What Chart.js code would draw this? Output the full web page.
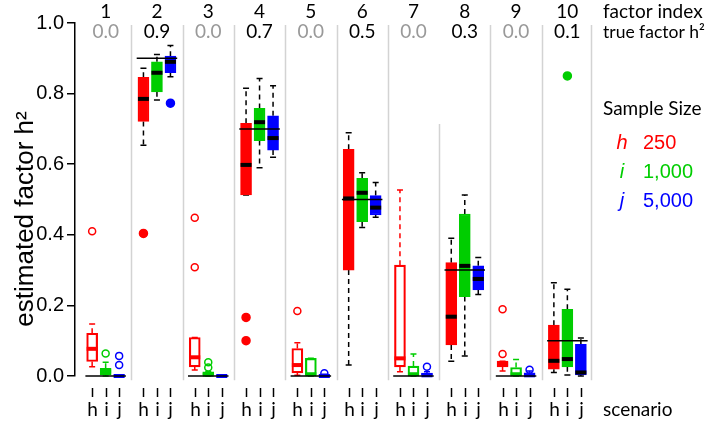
<!DOCTYPE html>
<html>
<head>
<meta charset="utf-8">
<script src="https://cdn.jsdelivr.net/npm/chart.js@4/dist/chart.umd.min.js"></script>
<style>
  body { margin: 0; background: #fff; }
  #wrap { width: 712px; height: 422px; position: relative; }
</style>
</head>
<body>
<div id="wrap"><canvas id="boxes"></canvas></div>
<script>
// factors and their true heritability
const factorIndex = [1, 2, 3, 4, 5, 6, 7, 8, 9, 10];
const trueH2 = [0.0, 0.9, 0.0, 0.7, 0.0, 0.5, 0.0, 0.3, 0.0, 0.1];
const scenarioLetters = ['h', 'i', 'j'];
const sampleSizes = ['250', '1,000', '5,000'];
const yTicks = [0.0, 0.2, 0.4, 0.6, 0.8, 1.0];

// scenario h (n = 250)
const lowH  = [0.026, 0.654, 0.017, 0.513, 0.002, 0.031, 0.012, 0.042, 0.014, 0.010];
const q1H   = [0.041, 0.721, 0.026, 0.513, 0.009, 0.300, 0.026, 0.088, 0.026, 0.019];
const medH  = [0.077, 0.785, 0.053, 0.598, 0.031, 0.503, 0.050, 0.168, 0.034, 0.043];
const q3H   = [0.121, 0.846, 0.109, 0.716, 0.078, 0.642, 0.314, 0.321, 0.042, 0.144];
const highH = [0.147, 0.872, 0.109, 0.815, 0.094, 0.689, 0.527, 0.390, 0.042, 0.264];
const outH  = [[0.410], [0.404], [0.308, 0.448], [0.166, 0.100], [0.184], [], [], [], [0.189, 0.062], []];

// scenario i (n = 1,000)
const lowI  = [0.000, 0.782, 0.000, 0.590, 0.000, 0.421, 0.000, 0.057, 0.000, 0.003];
const q1I   = [0.003, 0.805, 0.000, 0.667, 0.003, 0.437, 0.002, 0.225, 0.002, 0.026];
const medI  = [0.013, 0.859, 0.004, 0.719, 0.005, 0.519, 0.005, 0.312, 0.005, 0.048];
const q3I   = [0.022, 0.890, 0.012, 0.758, 0.050, 0.560, 0.028, 0.459, 0.024, 0.189];
const highI = [0.039, 0.911, 0.012, 0.843, 0.050, 0.576, 0.062, 0.513, 0.047, 0.246];
const outI  = [[0.064], [], [0.039, 0.024], [], [], [], [], [], [], [0.850]];

// scenario j (n = 5,000)
const lowJ  = [0.000, 0.848, 0.000, 0.620, 0.000, 0.450, 0.000, 0.231, 0.000, 0.000];
const q1J   = [0.000, 0.859, 0.000, 0.640, 0.000, 0.456, 0.000, 0.244, 0.000, 0.003];
const medJ  = [0.000, 0.890, 0.000, 0.674, 0.000, 0.477, 0.002, 0.275, 0.002, 0.010];
const q3J   = [0.003, 0.906, 0.002, 0.737, 0.003, 0.511, 0.008, 0.312, 0.009, 0.090];
const highJ = [0.003, 0.936, 0.002, 0.822, 0.005, 0.548, 0.012, 0.336, 0.014, 0.108];
const outJ  = [[0.057, 0.031], [0.773], [], [], [0.008], [], [0.026], [], [0.018], []];

const scenarios = [
  { low: lowH, q1: q1H, med: medH, q3: q3H, high: highH, out: outH, color: '#ff0000' },
  { low: lowI, q1: q1I, med: medI, q3: q3I, high: highI, out: outI, color: '#00cd00' },
  { low: lowJ, q1: q1J, med: medJ, q3: q3J, high: highJ, out: outJ, color: '#0000ff' }
];

const GROUP_STEP = 3.8;
const BOX_W = 11;
const SANS = 'Lato, "Noto Sans", sans-serif';
const HELV = '"Liberation Sans", Arial, sans-serif';

function pos(g, k) { return g * GROUP_STEP + (k - 1); }

// one floating bar dataset and one outlier dataset per scenario
const datasets = [];
scenarios.forEach(function (s, k) {
  datasets.push({
    type: 'bar',
    label: scenarioLetters[k],
    data: factorIndex.map(function (f, g) { return { x: pos(g, k), y: [s.q1[g], s.q3[g]], g: g }; }),
    backgroundColor: function (ctx) { return trueH2[ctx.raw ? ctx.raw.g : 0] === 0 ? 'rgba(255,255,255,0)' : s.color; },
    borderColor: s.color,
    borderWidth: 1.5,
    borderSkipped: false,
    barThickness: BOX_W,
    grouped: false,
    clip: false
  });
});
scenarios.forEach(function (s, k) {
  const pts = [];
  s.out.forEach(function (vals, g) {
    vals.forEach(function (v) { pts.push({ x: pos(g, k), y: v, hollow: trueH2[g] === 0 }); });
  });
  datasets.push({
    type: 'scatter',
    label: scenarioLetters[k] + ' outliers',
    data: pts,
    pointRadius: function (ctx) { return ctx.raw && ctx.raw.hollow ? 3.5 : 4; },
    pointBackgroundColor: function (ctx) { return ctx.raw && ctx.raw.hollow ? 'rgba(255,255,255,0)' : s.color; },
    pointBorderColor: s.color,
    pointBorderWidth: 1.5,
    clip: false
  });
});

const extras = {
  id: 'extras',
  beforeDatasetsDraw: function (chart) {
    const ctx = chart.ctx, xs = chart.scales.x, ys = chart.scales.y;
    ctx.save();
    // group separators
    ctx.strokeStyle = '#d3d3d3';
    ctx.lineWidth = 1.5;
    for (let g = 0; g < factorIndex.length; g++) {
      const xv = g === factorIndex.length - 1 ? xs.max : g * GROUP_STEP + GROUP_STEP / 2;
      const top = g === 6 ? 0.714 : 0.994;
      const px = Math.round(xs.getPixelForValue(xv)) + 0.5;
      ctx.beginPath();
      ctx.moveTo(px, ys.getPixelForValue(top));
      ctx.lineTo(px, ys.getPixelForValue(-0.012));
      ctx.stroke();
    }
    // whiskers and staples
    scenarios.forEach(function (s, k) {
      factorIndex.forEach(function (f, g) {
        const px = xs.getPixelForValue(pos(g, k));
        const col = trueH2[g] === 0 ? s.color : '#000';
        ctx.strokeStyle = col;
        ctx.lineWidth = 1.5;
        ctx.setLineDash([5, 4]);
        ctx.beginPath();
        if (s.high[g] > s.q3[g]) {
          ctx.moveTo(px, ys.getPixelForValue(s.q3[g]));
          ctx.lineTo(px, ys.getPixelForValue(s.high[g]));
        }
        if (s.low[g] < s.q1[g]) {
          ctx.moveTo(px, ys.getPixelForValue(s.q1[g]));
          ctx.lineTo(px, ys.getPixelForValue(s.low[g]));
        }
        ctx.stroke();
        ctx.setLineDash([]);
        ctx.beginPath();
        [s.high[g], s.low[g]].forEach(function (v) {
          const py = ys.getPixelForValue(v);
          ctx.moveTo(px - 3, py);
          ctx.lineTo(px + 3, py);
        });
        ctx.stroke();
      });
    });
    ctx.restore();
  },
  afterDatasetsDraw: function (chart) {
    const ctx = chart.ctx, xs = chart.scales.x, ys = chart.scales.y;
    ctx.save();
    // medians
    scenarios.forEach(function (s, k) {
      factorIndex.forEach(function (f, g) {
        const px = xs.getPixelForValue(pos(g, k));
        const py = ys.getPixelForValue(s.med[g]);
        ctx.fillStyle = trueH2[g] === 0 ? s.color : '#000';
        ctx.fillRect(px - BOX_W / 2, py - 2, BOX_W, 4);
      });
    });
    // true h2 reference lines
    ctx.strokeStyle = '#000';
    ctx.lineWidth = 1.5;
    trueH2.forEach(function (v, g) {
      const py = ys.getPixelForValue(v);
      ctx.beginPath();
      ctx.moveTo(xs.getPixelForValue(g * GROUP_STEP - 1.5), py);
      ctx.lineTo(xs.getPixelForValue(g * GROUP_STEP + 1.5), py);
      ctx.stroke();
    });
    ctx.restore();
  },
  afterDraw: function (chart) {
    const ctx = chart.ctx, xs = chart.scales.x, ys = chart.scales.y;
    ctx.save();
    ctx.textBaseline = 'middle';
    // header rows
    ctx.textAlign = 'center';
    ctx.font = '19px ' + SANS;
    factorIndex.forEach(function (f, g) {
      const px = xs.getPixelForValue(g * GROUP_STEP);
      ctx.fillStyle = '#000';
      ctx.fillText(String(f), px, 12);
      ctx.fillStyle = trueH2[g] === 0 ? '#999999' : '#000';
      ctx.fillText(trueH2[g].toFixed(1), px, 32);
    });
    // bottom scenario letters
    ctx.fillStyle = '#000';
    ctx.strokeStyle = '#000';
    ctx.lineWidth = 1.5;
    factorIndex.forEach(function (f, g) {
      scenarioLetters.forEach(function (l, k) {
        const px = Math.round(xs.getPixelForValue(pos(g, k))) + 0.5;
        ctx.beginPath();
        ctx.moveTo(px, 388);
        ctx.lineTo(px, 397);
        ctx.stroke();
        ctx.fillText(l, px, 410);
      });
    });
    // right side labels
    ctx.textAlign = 'left';
    ctx.fillText('factor index', 603, 12);
    ctx.fillText('scenario', 603, 410);
    ctx.fillText('Sample Size', 603, 109);
    ctx.font = '17.5px ' + SANS;
    ctx.fillText('true factor h\u00b2', 603, 32);
    // sample size legend
    const rowsY = [143, 172, 201];
    scenarios.forEach(function (s, k) {
      ctx.fillStyle = s.color;
      ctx.textAlign = 'center';
      ctx.font = 'italic 20px ' + HELV;
      ctx.fillText(scenarioLetters[k], 622, rowsY[k]);
      ctx.textAlign = 'left';
      ctx.font = '20px ' + HELV;
      ctx.fillText(sampleSizes[k], 643, rowsY[k]);
    });
    // y axis title
    ctx.fillStyle = '#000';
    ctx.font = '26px ' + HELV;
    ctx.textAlign = 'center';
    ctx.translate(26, 219);
    ctx.rotate(-Math.PI / 2);
    ctx.fillText('estimated factor h\u00b2', 0, 0);
    ctx.restore();
  }
};

new Chart(document.getElementById('boxes'), {
  type: 'bar',
  data: { datasets: datasets },
  options: {
    responsive: true,
    maintainAspectRatio: false,
    animation: false,
    layout: { padding: { top: 23, bottom: 46, left: 0, right: 121 } },
    plugins: { legend: { display: false }, tooltip: { enabled: false } },
    scales: {
      x: {
        type: 'linear',
        display: false,
        offset: false,
        min: -2.27,
        max: 35.95
      },
      y: {
        type: 'linear',
        min: 0,
        max: 1,
        afterFit: function (scale) { scale.width = 75; },
        afterBuildTicks: function (scale) { scale.ticks = yTicks.map(function (v) { return { value: v }; }); },
        ticks: {
          color: '#000',
          padding: 3,
          font: { family: HELV, size: 20 },
          callback: function (v) { return Number(v).toFixed(1); }
        },
        grid: { drawOnChartArea: false, tickLength: 8, color: '#000', lineWidth: 1.5 },
        border: { color: '#000', width: 1.5 }
      }
    }
  },
  plugins: [extras]
});
</script>
</body>
</html>
